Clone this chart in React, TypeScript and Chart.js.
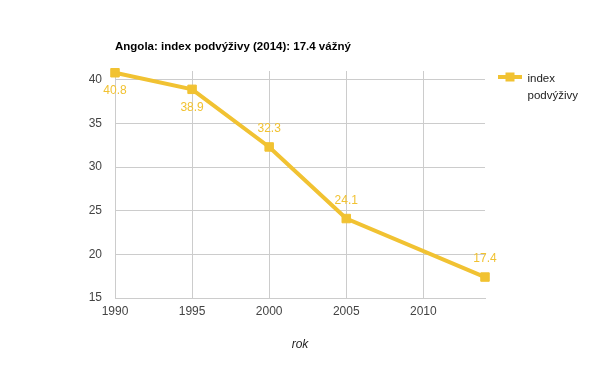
import React, { useEffect, useRef } from "react";
import { Chart, registerables } from "chart.js";

Chart.register(...registerables);

const years = [1990, 1995, 2000, 2005, 2014];
const values = [40.8, 38.9, 32.3, 24.1, 17.4];
const xTicks = [1990, 1995, 2000, 2005, 2010];
const yTicks = [15, 20, 25, 30, 35, 40];
const titleText = "Angola: index podvýživy (2014): 17.4 vážný";
const seriesName = ["index", "podvýživy"];
const xAxisTitle = "rok";

const YELLOW = "#f1c232";
const FONT = "'Liberation Sans', Arial, sans-serif";

const overlay = {
  id: "overlay",
  afterDatasetsDraw(chart: any) {
    const ctx = chart.ctx;
    const meta = chart.getDatasetMeta(0);
    ctx.save();
    // data labels
    ctx.font = `12px ${FONT}`;
    ctx.fillStyle = YELLOW;
    ctx.textAlign = "center";
    ctx.textBaseline = "middle";
    meta.data.forEach((pt: any, i: number) => {
      const below = i < 2;
      ctx.fillText(String(values[i]), pt.x, pt.y + (below ? 18 : -18));
    });
    // title
    ctx.font = `bold 11.5px ${FONT}`;
    ctx.fillStyle = "#000";
    ctx.textAlign = "left";
    ctx.textBaseline = "alphabetic";
    ctx.fillText(titleText, chart.chartArea.left, 50);
    // x axis title
    ctx.font = `italic 12px ${FONT}`;
    ctx.fillStyle = "#222";
    ctx.textAlign = "center";
    ctx.fillText(xAxisTitle, (chart.chartArea.left + chart.chartArea.right) / 2, 348);
    // legend
    const ly = 77;
    ctx.strokeStyle = YELLOW;
    ctx.lineWidth = 4;
    ctx.beginPath();
    ctx.moveTo(498, ly);
    ctx.lineTo(522, ly);
    ctx.stroke();
    ctx.fillStyle = YELLOW;
    ctx.fillRect(505.5, ly - 4.5, 9, 9);
    ctx.font = `11.5px ${FONT}`;
    ctx.fillStyle = "#222";
    ctx.textAlign = "left";
    ctx.fillText(seriesName[0], 527.5, 81.5);
    ctx.fillText(seriesName[1], 527.5, 98.5);
    ctx.restore();
  },
};

export default function App() {
  const ref = useRef<HTMLCanvasElement>(null);
  useEffect(() => {
    document.body.style.margin = "0";
    const chart = new Chart(ref.current!, {
      type: "line",
      data: {
        datasets: [
          {
            label: seriesName.join(" "),
            data: years.map((y, i) => ({ x: y, y: values[i] })),
            borderColor: YELLOW,
            backgroundColor: YELLOW,
            borderWidth: 4,
            pointStyle: "rect",
            pointRadius: 6,
            pointBorderWidth: 1,
            tension: 0,
            clip: false,
          },
        ],
      },
      options: {
        responsive: false,
        animation: false,
        layout: { padding: { left: 0, top: 71, right: 115, bottom: 0 } },
        plugins: { legend: { display: false }, title: { display: false }, tooltip: { enabled: false } },
        scales: {
          x: {
            type: "linear",
            min: 1990,
            max: 2014,
            afterBuildTicks: (axis: any) => {
              axis.ticks = xTicks.map((v) => ({ value: v }));
            },
            afterFit: (s: any) => {
              s.height = 73;
            },
            ticks: {
              padding: 6,
              color: "#444",
              font: { family: FONT, size: 12 },
              callback: (v: any) => String(v),
            },
            grid: { color: "#cccccc", drawTicks: false },
            border: { color: "#cccccc" },
          },
          y: {
            type: "linear",
            min: 15,
            max: 41,
            afterBuildTicks: (axis: any) => {
              axis.ticks = yTicks.map((v) => ({ value: v }));
            },
            afterFit: (s: any) => {
              s.width = 115;
            },
            ticks: {
              padding: 13,
              color: "#444",
              font: { family: FONT, size: 12 },
              callback: (v: any) => String(v),
            },
            grid: { color: "#cccccc", drawTicks: false },
            border: { color: "#cccccc" },
          },
        },
      },
      plugins: [overlay],
    } as any);
    return () => chart.destroy();
  }, []);
  return <canvas ref={ref} width={600} height={371} style={{ display: "block" }} />;
}
